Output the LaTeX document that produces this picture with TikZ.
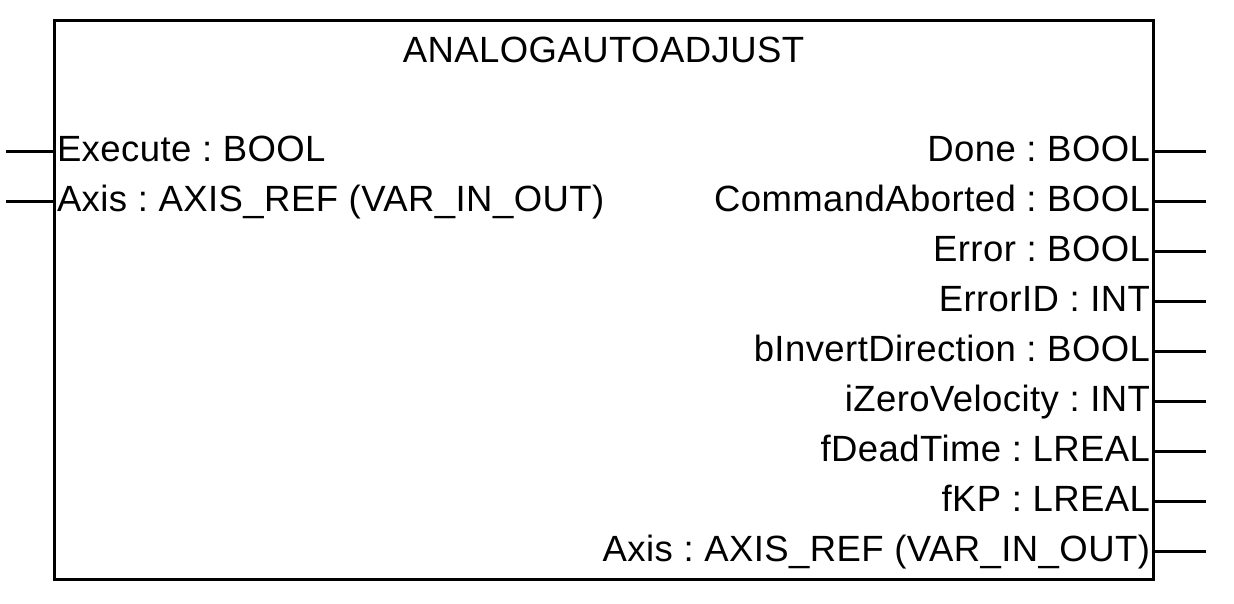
\documentclass[tikz,border=0pt]{standalone}
\usepackage{fontspec}
\setmainfont{Liberation Sans}[LetterSpace=1.2]
\frenchspacing
\begin{document}
\begin{tikzpicture}[x=1pt,y=-1pt,
  lbl/.style={inner sep=0pt, outer sep=0pt, font=\fontsize{36.5}{40}\selectfont},
  wire/.style={line width=3pt},
  fbbox/.style={draw, line width=3pt, inner sep=0pt, outer sep=0pt, minimum width=1099pt, minimum height=559pt}]
\useasboundingbox (0,0) rectangle (1234,603);
\node[fbbox] (fb) at (603.5,299.5) {};
\node[lbl, anchor=base] (title) at (603.5,62) {ANALOGAUTOADJUST};
% inputs
\foreach \i/\t in {0/{Execute : BOOL}, 1/{Axis : AXIS\_REF (VAR\_IN\_OUT)}} {
  \coordinate (in\i) at (6,151+50*\i);
  \draw[wire] (in\i) -- (in\i -| fb.west);
  \node[lbl, anchor=base west] (inl\i) at (57,161+50*\i) {\t};
}
% outputs
\foreach \i/\t in {0/{Done : BOOL}, 1/{CommandAborted : BOOL}, 2/{Error : BOOL}, 3/{ErrorID : INT}, 4/{bInvertDirection : BOOL}, 5/{iZeroVelocity : INT}, 6/{fDeadTime : LREAL}, 7/{fKP : LREAL}, 8/{Axis : AXIS\_REF (VAR\_IN\_OUT)}} {
  \coordinate (out\i) at (1206,151+50*\i);
  \draw[wire] (out\i -| fb.east) -- (out\i);
  \node[lbl, anchor=base east] (outl\i) at (1150,161+50*\i) {\t};
}
\end{tikzpicture}
\end{document}
